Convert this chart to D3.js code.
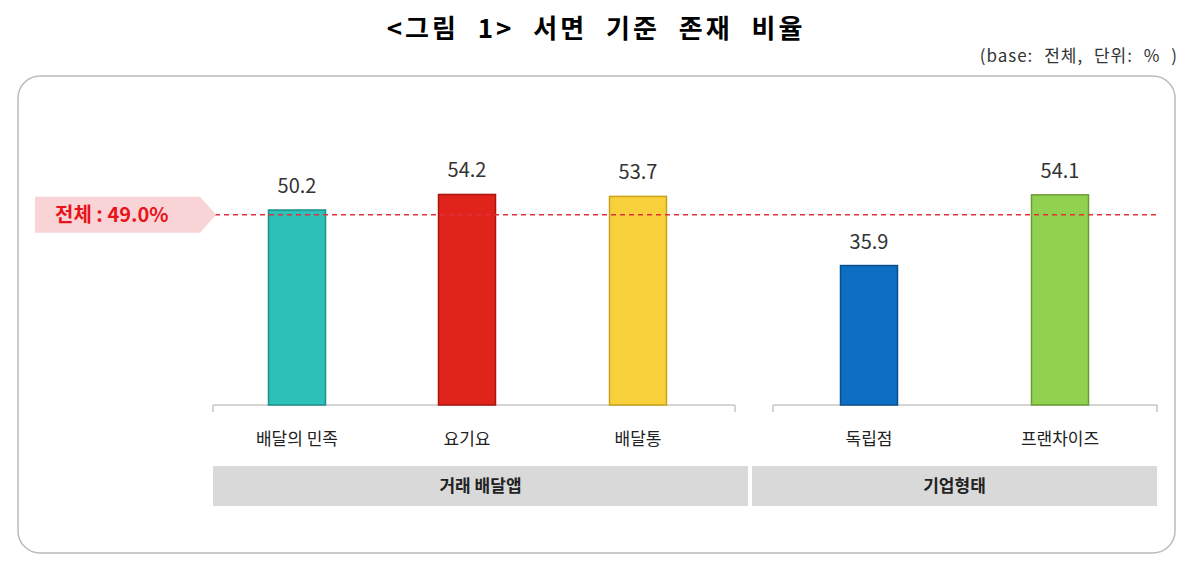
<!DOCTYPE html>
<html><head><meta charset="utf-8">
<script src="https://cdn.jsdelivr.net/npm/d3@7"></script>
<style>body{margin:0;background:#fff}svg{font-family:"Noto Sans CJK KR","Noto Sans",sans-serif}</style>
</head><body><svg id="c" width="1200" height="561"></svg>
<script>
const categories=["배달의 민족","요기요","배달통","독립점","프랜차이즈"];
const values=[50.2,54.2,53.7,35.9,54.1];
const colors=["#2cc0b9","#e0231b","#f8d03c","#0d6fc4","#92d050"];
const strokes=["#1e8f89","#a8160f","#c9a318","#0a4f8c","#6a9c36"];
const groups=[{name:"거래 배달앱",x0:213,x1:748},{name:"기업형태",x0:752,x1:1157}];
const centers=[297,467,638,869,1060];
const total=49.0;
const svg=d3.select("#c");
const y=d3.scaleLinear().domain([0,50.2]).range([405,210]);
svg.append("text").attr("x",596).attr("y",38).attr("text-anchor","middle").attr("font-size",26).attr("font-weight","bold").attr("letter-spacing",3).attr("word-spacing",10).text("<그림 1> 서면 기준 존재 비율");
svg.append("text").attr("x",1178).attr("y",62).attr("text-anchor","end").attr("font-size",17).attr("fill","#333").attr("letter-spacing",1).attr("word-spacing",6).text("(base: 전체, 단위: % )");
svg.append("rect").attr("x",18).attr("y",76).attr("width",1157).attr("height",477).attr("rx",22).attr("fill","none").attr("stroke","#bbb").attr("stroke-width",1.5);
svg.append("path").attr("d","M213,412V405H735V412").attr("fill","none").attr("stroke","#aaa");
svg.append("path").attr("d","M773,412V405H1157V412").attr("fill","none").attr("stroke","#aaa");
const bw=57;
svg.selectAll(".bar").data(values).join("rect").attr("x",(d,i)=>centers[i]-bw/2).attr("y",d=>y(d)).attr("width",bw).attr("height",d=>405-y(d)).attr("fill",(d,i)=>colors[i]).attr("stroke",(d,i)=>strokes[i]).attr("stroke-width",1.5);
svg.selectAll(".val").data(values).join("text").attr("x",(d,i)=>centers[i]).attr("y",d=>y(d)-17).attr("text-anchor","middle").attr("font-size",20).attr("fill","#333").text(d=>d.toFixed(1));
svg.selectAll(".cat").data(categories).join("text").attr("x",(d,i)=>centers[i]).attr("y",445).attr("text-anchor","middle").attr("font-size",17).attr("fill","#222").text(d=>d);
groups.forEach(g=>{
 svg.append("rect").attr("x",g.x0).attr("y",466).attr("width",g.x1-g.x0).attr("height",40).attr("fill","#d9d9d9");
 svg.append("text").attr("x",(g.x0+g.x1)/2).attr("y",492).attr("text-anchor","middle").attr("font-size",17).attr("font-weight","bold").attr("fill","#222").text(g.name);
});
const ty=y(total);
svg.append("line").attr("x1",215).attr("x2",1157).attr("y1",ty).attr("y2",ty).attr("stroke","#e0303a").attr("stroke-width",1.5).attr("stroke-dasharray","5,4");
svg.append("path").attr("d",`M35,${ty-18}H200L216,${ty}L200,${ty+18}H35Z`).attr("fill","#f9d4d6");
svg.append("text").attr("x",55).attr("y",ty+7).attr("font-size",20).attr("font-weight","bold").attr("fill","#e8141c").text("전체 : "+total.toFixed(1)+"%");
</script></body></html>
